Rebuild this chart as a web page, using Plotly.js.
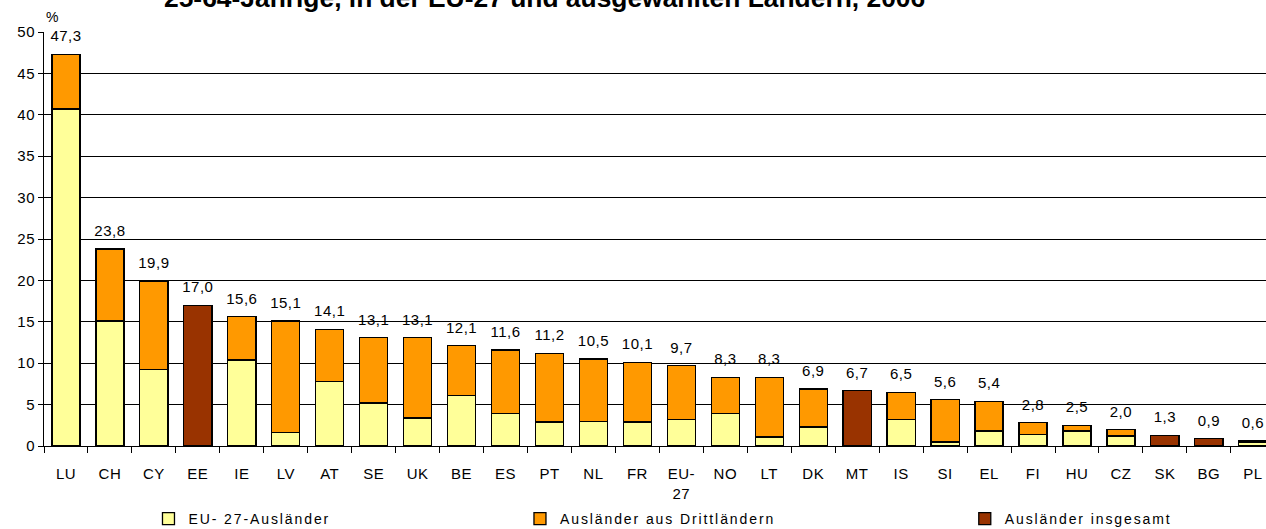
<!DOCTYPE html>
<html>
<head>
<meta charset="utf-8">
<script src="https://cdn.plot.ly/plotly-3.0.1.min.js"></script>
<style>
  html, body { margin: 0; padding: 0; background: #fff; overflow: hidden; }
  #chart { width: 1266px; height: 529px; }
</style>
</head>
<body>
<div id="chart"></div>
<script>
// ---- data ----
const categories = ["LU","CH","CY","EE","IE","LV","AT","SE","UK","BE","ES","PT","NL","FR","EU-<br>27","NO","LT","DK","MT","IS","SI","EL","FI","HU","CZ","SK","BG","PL"];
const euForeigners    = [40.7,15.1,9.2,null,10.4,1.6,7.8,5.2,3.4,6.1,3.9,2.9,3.0,2.9,3.2,3.9,1.1,2.3,null,3.2,0.5,1.8,1.4,1.8,1.2,null,null,0.4];
const thirdCountry    = [6.6,8.7,10.7,null,5.2,13.5,6.3,7.9,9.7,6.0,7.7,8.3,7.5,7.2,6.5,4.4,7.2,4.6,null,3.3,5.1,3.6,1.4,0.7,0.8,null,null,0.2];
const foreignersTotal = [null,null,null,17.0,null,null,null,null,null,null,null,null,null,null,null,null,null,null,6.7,null,null,null,null,null,null,1.3,0.9,null];
const totals          = [47.3,23.8,19.9,17.0,15.6,15.1,14.1,13.1,13.1,12.1,11.6,11.2,10.5,10.1,9.7,8.3,8.3,6.9,6.7,6.5,5.6,5.4,2.8,2.5,2.0,1.3,0.9,0.6];
const seriesNames = ["EU- 27-Ausländer","Ausländer aus Drittländern","Ausländer insgesamt"];
const titleText = "25-64-Jährige, in der EU-27 und ausgewählten Ländern, 2006";
const yUnit = "%";

const FONT = "Liberation Sans, Arial, sans-serif";
const barLine = {color: "#000000", width: 1.3};
const W = 0.64;

const traces = [
  {type: "bar", name: seriesNames[0], x: categories, y: euForeigners, width: W,
   marker: {color: "#FFFF99", line: barLine}, legend: "legend", hoverinfo: "x+y"},
  {type: "bar", name: seriesNames[1], x: categories, y: thirdCountry, width: W,
   marker: {color: "#FF9900", line: barLine}, legend: "legend2", hoverinfo: "x+y"},
  {type: "bar", name: seriesNames[2], x: categories, y: foreignersTotal, width: W,
   marker: {color: "#993300", line: barLine}, legend: "legend3", hoverinfo: "x+y"},
  {type: "scatter", mode: "text+markers", x: categories, y: totals,
   text: totals.map(v => v.toFixed(1).replace(".", ",")),
   textposition: "top center",
   textfont: {family: FONT, size: 15, color: "#000"},
   marker: {size: 13, opacity: 0},
   showlegend: false, hoverinfo: "skip", cliponaxis: false}
];

const legendBase = {orientation: "h", xanchor: "left", yanchor: "middle",
  xref: "paper", yref: "container", y: 0.019,
  entrywidth: 280, entrywidthmode: "pixels",
  font: {family: FONT, size: 14, color: "#000"}, bgcolor: "rgba(0,0,0,0)", borderwidth: 0};

const layout = {
  width: 1266, height: 529,
  margin: {l: 44, r: 0, t: 32, b: 83},
  paper_bgcolor: "#ffffff", plot_bgcolor: "#ffffff",
  barmode: "stack",
  font: {family: FONT, size: 15, color: "#000"},
  xaxis: {
    type: "category", range: [-0.5, 27.3],
    showline: true, linecolor: "#000", linewidth: 1,
    ticks: "outside", tickson: "boundaries", ticklen: 6, tickcolor: "#000", tickwidth: 1,
    tickfont: {family: FONT, size: 15, color: "#000"},
    ticklabelstandoff: 14, automargin: false,
    showgrid: false, fixedrange: true
  },
  yaxis: {
    range: [0, 50], dtick: 5, tick0: 0,
    showline: true, linecolor: "#000", linewidth: 1,
    ticks: "outside", ticklen: 5, tickcolor: "#000",
    tickfont: {family: FONT, size: 15, color: "#000"},
    showgrid: true, gridcolor: "#000", gridwidth: 1,
    zeroline: false, fixedrange: true, automargin: false
  },
  showlegend: true,
  legend: Object.assign({}, legendBase, {x: 0.0855}),
  legend2: Object.assign({}, legendBase, {x: 0.3895}),
  legend3: Object.assign({}, legendBase, {x: 0.7535, entrywidth: 230}),
  annotations: [
    {text: "<b>" + titleText + "</b>", xref: "paper", yref: "paper",
     x: 0.4095, y: 1.082, xanchor: "center", yanchor: "middle", showarrow: false,
     font: {family: FONT, size: 26.4, color: "#000"}},
    {text: yUnit, xref: "paper", yref: "paper", x: 0.0, y: 1.036,
     xanchor: "left", yanchor: "middle", showarrow: false,
     font: {family: FONT, size: 14, color: "#000"}}
  ]
};

const gd = document.getElementById("chart");
function setLS(t, v) {
  if (t.getAttribute("letter-spacing") !== v) t.setAttribute("letter-spacing", v);
  if (t.style.letterSpacing !== v + "px") t.style.letterSpacing = v + "px";
}
function applySpacing() {
  gd.querySelectorAll(".legendtext, .legend text, [class^='legend'] text").forEach(function (t) {
    setLS(t, "1.9");
  });
  gd.querySelectorAll(".xtick text, .ytick text, .textpoint text").forEach(function (t) {
    setLS(t, "0.5");
  });
}
new MutationObserver(applySpacing).observe(gd, {childList: true, subtree: true, attributes: true, attributeFilter: ["style", "class"]});

Plotly.newPlot(gd, traces, layout, {displayModeBar: false, staticPlot: true}).then(function () {
  applySpacing();
  requestAnimationFrame(applySpacing);
  setTimeout(applySpacing, 50);
});
</script>
</body>
</html>
